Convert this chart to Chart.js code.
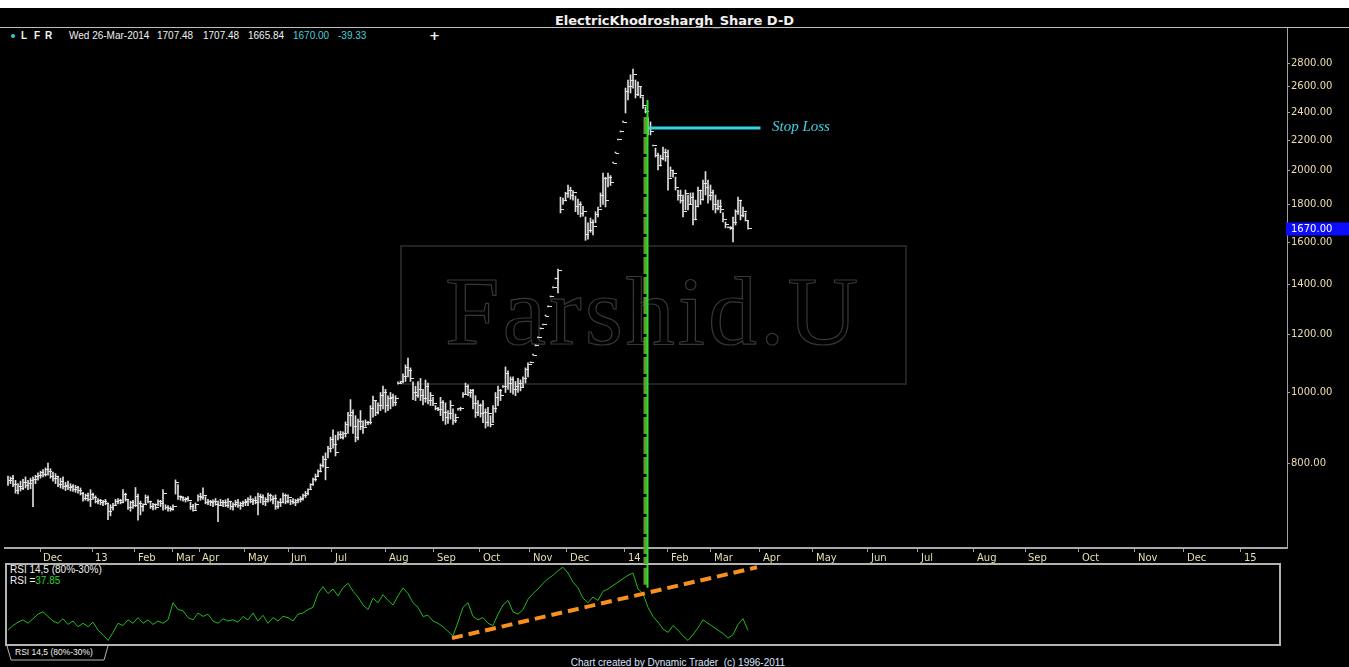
<!DOCTYPE html>
<html lang="en">

<head>
    <meta charset="UTF-8">
    <title>ElectricKhodroshargh_Share D-D</title>
    <script src="https://cdn.jsdelivr.net/npm/chart.js"></script>
    <style>
        html, body { margin: 0; padding: 0; background: #fff; }
        #wrap { position: relative; width: 1349px; height: 667px; overflow: hidden; }
        #board { position: absolute; left: 0; top: 8px; width: 1349px; height: 659px; background: #000; }
        .t { position: absolute; white-space: nowrap; font-family: "Liberation Sans", Arial, sans-serif; font-size: 10px; line-height: 12px; color: #f2f2f2; }
        #title { left: 0; top: 13px; width: 1349px; text-align: center; font: bold 13px/15px "DejaVu Sans", sans-serif; color: #f4f0f0; }
        #rule { position: absolute; left: 0; top: 27px; width: 1349px; height: 1px; background: #bdbdbd; }
        #dot { position: absolute; left: 11px; top: 34px; width: 4px; height: 4px; border-radius: 2px; background: #3cc8d8; }
        .cy { color: #45cfdc; }
        #mark { position: absolute; left: 400px; top: 245px; width: 503px; height: 136px; border: 2px solid #232323; }
        #farshid { position: absolute; left: 445px; top: 262px; font: 98px/98px "Liberation Serif", serif; letter-spacing: 3px; color: transparent; -webkit-text-stroke: 1.2px #383838; }
        canvas { position: absolute; left: 0; }
        #priceChart { top: 23px; }
        #rsiChart { top: 565px; }
        #rsiBox { position: absolute; left: 5px; top: 563px; width: 1272px; height: 79px; border: 2px solid #b3b3b3; }
    </style>
</head>

<body>
    <div id="wrap">
        <div id="board"></div>
        <div id="title" class="t">ElectricKhodroshargh_Share D-D</div>
        <div id="rule"></div>
        <div id="dot"></div>
        <div class="t" style="left:21px;top:30px;font-weight:bold">L</div>
        <div class="t" style="left:34px;top:30px;font-weight:bold">F</div>
        <div class="t" style="left:45px;top:30px;font-weight:bold">R</div>
        <div class="t" style="left:69px;top:30px">Wed 26-Mar-2014</div>
        <div class="t" style="left:157px;top:30px">1707.48</div>
        <div class="t" style="left:203px;top:30px">1707.48</div>
        <div class="t" style="left:248px;top:30px">1665.84</div>
        <div class="t cy" style="left:293px;top:30px">1670.00</div>
        <div class="t cy" style="left:338px;top:30px">-39.33</div>
        <div class="t" style="left:429px;top:28px;font:bold 13px/15px 'DejaVu Sans'">+</div>

        <div id="mark"></div>
        <div id="farshid">Farshid.U</div>

        <div id="rsiBox"></div>
        <div class="t" style="left:10px;top:564px">RSI 14,5 (80%-30%)</div>
        <div class="t" style="left:10px;top:575px">RSI =<span style="color:#2fd22f">37.85</span></div>

        <svg style="position:absolute;left:0;top:644px" width="120" height="20">
            <polyline points="7,2 11,16 104,16 108,2" fill="none" stroke="#b3b3b3" stroke-width="1" />
        </svg>
        <div class="t" style="left:15px;top:647px;font-size:8.5px;line-height:10px">RSI 14,5 (80%-30%)</div>
        <div class="t" style="left:0;top:657px;width:1356px;text-align:center;color:#dce4ff">Chart created by Dynamic Trader&nbsp; (c) 1996-2011</div>

        <canvas id="priceChart" width="1349" height="541"></canvas>
        <canvas id="rsiChart" width="1349" height="80"></canvas>
    </div>

    <script>
        // daily bars, 20-Nov-2012 .. 26-Mar-2014 (bar index = trading day)
        const highs = [
            770, 768, 772, 760, 752, 758, 762, 768, 760, 765,
            768, 772, 778, 782, 786, 790, 802, 788, 780, 776,
            770, 765, 768, 755, 758, 752, 750, 748, 746, 742,
            732, 728, 730, 738, 730, 724, 718, 716, 714, 716,
            708, 704, 707, 716, 718, 716, 738, 730, 716, 712,
            714, 743, 728, 712, 706, 726, 724, 712, 707, 706,
            715, 714, 738, 704, 702, 700, 704, 761, 750, 724,
            722, 720, 722, 710, 705, 708, 726, 730, 742, 722,
            716, 714, 715, 718, 712, 716, 714, 715, 718, 712,
            708, 714, 716, 710, 712, 716, 720, 724, 718, 722,
            730, 728, 726, 720, 730, 728, 724, 726, 712, 718,
            730, 728, 726, 716, 718, 716, 718, 722, 728, 734,
            740, 752, 765, 775, 785, 800, 820, 828, 845, 870,
            890, 875, 884, 886, 884, 912, 940, 978, 947, 930,
            920, 945, 915, 918, 914, 960, 989, 975, 968, 1000,
            1020, 1010, 990, 1000, 995, 990, 1034, 1036, 1060, 1090,
            1114, 1080, 1034, 1020, 1035, 1045, 1010, 1040, 1030, 1000,
            985, 960, 955, 985, 975, 968, 945, 975, 950, 935,
            952, 955, 1000, 1030, 1024, 1010, 1010, 990, 975, 965,
            975, 950, 955, 930, 960, 1000, 1020, 1010, 1022, 1083,
            1070, 1050, 1050, 1035, 1045, 1040, 1050, 1080, 1097, 1097,
            1124, 1157, 1186, 1220, 1235, 1270, 1307, 1348, 1387, 1426,
            1471, 1842, 1836, 1870, 1913, 1900, 1880, 1848, 1830, 1815,
            1790, 1731, 1700, 1725, 1715, 1760, 1786, 1866, 1986, 1960,
            1986, 1970, 2049, 2114, 2202, 2258, 2329, 2590, 2656, 2700,
            2749, 2656, 2640, 2600, 2520, 2441, 2360, 2330, 2161, 2147,
            2114, 2100, 2154, 2140, 2134, 2024, 2005, 1961, 1883, 1883,
            1854, 1883, 1854, 1866, 1866, 1825, 1901, 1883, 1943, 1995,
            1943, 1913, 1883, 1854, 1825, 1825, 1753, 1704, 1673, 1680,
            1731, 1770, 1842, 1825, 1786, 1753, 1707.48
        ];
        const lows = [
            748, 752, 745, 730, 728, 735, 738, 742, 738, 740,
            700, 752, 760, 765, 768, 770, 772, 765, 758, 752,
            745, 742, 740, 736, 738, 735, 734, 732, 730, 726,
            712, 714, 712, 700, 716, 708, 706, 704, 702, 704,
            672, 680, 692, 704, 706, 706, 708, 712, 694, 690,
            696, 700, 671, 682, 690, 704, 708, 696, 693, 694,
            702, 700, 692, 694, 690, 690, 692, 728, 716, 714,
            712, 710, 712, 694, 690, 694, 712, 714, 716, 706,
            704, 702, 700, 703, 668, 702, 700, 700, 698, 694,
            692, 700, 698, 694, 700, 702, 702, 708, 704, 706,
            682, 708, 704, 702, 710, 712, 706, 694, 696, 700,
            708, 706, 708, 704, 706, 702, 708, 710, 714, 720,
            726, 740, 748, 758, 770, 780, 792, 761, 815, 830,
            840, 820, 862, 866, 864, 870, 880, 900, 880, 857,
            862, 890, 880, 900, 904, 906, 926, 930, 935, 945,
            950, 940, 945, 950, 958, 960, 1026, 1028, 1030, 1035,
            1050, 1035, 978, 975, 985, 975, 962, 970, 965, 960,
            960, 947, 945, 930, 915, 905, 908, 920, 905, 910,
            946, 945, 985, 995, 990, 985, 950, 925, 930, 926,
            910, 895, 900, 898, 910, 940, 960, 975, 1016, 1000,
            1010, 1000, 995, 990, 1000, 1005, 1015, 1030, 1050, 1097,
            1124, 1157, 1186, 1220, 1235, 1270, 1307, 1348, 1387, 1426,
            1365, 1753, 1800, 1820, 1840, 1830, 1825, 1760, 1745, 1731,
            1735, 1609, 1615, 1650, 1637, 1700, 1731, 1786, 1800, 1786,
            1901, 1910, 2049, 2114, 2202, 2258, 2329, 2396, 2495, 2550,
            2590, 2511, 2530, 2511, 2430, 2396, 2237, 2237, 2161, 2088,
            2005, 2030, 2069, 2060, 1883, 1961, 1961, 1883, 1825, 1808,
            1731, 1770, 1770, 1800, 1688, 1715, 1786, 1800, 1825, 1854,
            1808, 1825, 1770, 1753, 1770, 1753, 1704, 1673, 1673, 1665,
            1601, 1688, 1745, 1715, 1731, 1709, 1665.84
        ];
        const closes = [
            760, 765, 750, 736, 745, 740, 755, 748, 752, 760,
            762, 768, 772, 778, 775, 785, 780, 770, 764, 768,
            750, 758, 745, 748, 742, 746, 738, 744, 735, 730,
            718, 724, 716, 728, 720, 712, 714, 708, 712, 706,
            690, 698, 702, 712, 714, 710, 728, 716, 698, 708,
            702, 722, 706, 700, 704, 720, 712, 700, 704, 698,
            712, 706, 730, 698, 696, 694, 700, 755, 722, 720,
            716, 718, 714, 700, 692, 704, 722, 720, 725, 710,
            712, 708, 712, 705, 702, 708, 710, 702, 712, 700,
            704, 710, 702, 706, 708, 712, 716, 712, 714, 710,
            722, 720, 712, 716, 725, 716, 718, 700, 708, 710,
            725, 712, 720, 712, 710, 714, 716, 718, 724, 730,
            738, 750, 762, 770, 782, 795, 812, 790, 840, 862,
            850, 830, 878, 870, 880, 905, 930, 940, 900, 870,
            912, 900, 895, 910, 910, 950, 975, 940, 960, 990,
            1000, 960, 980, 985, 970, 982, 1030, 1034, 1050, 1080,
            1070, 1045, 1000, 990, 1010, 990, 980, 1020, 975, 990,
            965, 950, 948, 970, 940, 925, 935, 960, 915, 925,
            950, 952, 995, 1020, 1000, 1005, 965, 940, 960, 935,
            940, 910, 935, 905, 950, 985, 1005, 990, 1020, 1060,
            1030, 1040, 1010, 1020, 1030, 1015, 1045, 1075, 1090, 1097,
            1124, 1157, 1186, 1220, 1235, 1270, 1307, 1348, 1387, 1426,
            1465, 1770, 1820, 1860, 1880, 1850, 1870, 1790, 1800, 1750,
            1760, 1640, 1660, 1700, 1680, 1745, 1770, 1850, 1950, 1820,
            1960, 1930, 2049, 2114, 2202, 2258, 2329, 2560, 2600, 2650,
            2700, 2540, 2600, 2530, 2450, 2410, 2286, 2260, 2161, 2100,
            2030, 2080, 2120, 2090, 1950, 2000, 1980, 1900, 1850, 1820,
            1760, 1860, 1800, 1840, 1720, 1790, 1880, 1830, 1920, 1900,
            1850, 1870, 1800, 1780, 1790, 1770, 1720, 1690, 1673, 1672,
            1700, 1760, 1820, 1740, 1760, 1709.33, 1670
        ];
        // RSI 14,5 read every second bar
        const rsi = [
            38, 42, 45, 47, 44, 48, 52, 54, 50, 46,
            44, 48, 43, 46, 41, 44, 41, 45, 38, 34,
            29, 36, 44, 42, 47, 44, 49, 44, 47, 43,
            46, 44, 47, 62, 56, 55, 49, 47, 53, 50,
            52, 46, 44, 48, 46, 47, 45, 50, 47, 53,
            46, 51, 44, 49, 46, 50, 49, 46, 52, 53,
            56, 58, 70, 76, 70, 74, 68, 75, 79, 72,
            67, 60, 56, 66, 62, 69, 64, 60, 68, 75,
            70, 62, 58, 50, 51, 46, 44, 41, 37, 33,
            45, 58, 62, 50, 47, 49, 44, 42, 52, 60,
            64, 54, 52, 56, 65, 70, 74, 79, 83, 86,
            90, 93, 88, 80, 75, 66, 62, 67, 64, 72,
            74, 77, 80, 83, 86, 88, 74, 70, 58, 50,
            45, 39, 36, 42, 38, 33, 29, 34, 40, 47,
            44, 41, 38, 35, 31, 34, 43, 48, 37.85
        ];
        const monthLabels = ['Dec', '13', 'Feb', 'Mar', 'Apr', 'May', 'Jun', 'Jul', 'Aug', 'Sep', 'Oct', 'Nov', 'Dec',
            '14', 'Feb', 'Mar', 'Apr', 'May', 'Jun', 'Jul', 'Aug', 'Sep', 'Oct', 'Nov', 'Dec', '15'];
        const monthPos = [12.8, 33.6, 50.8, 66, 76.4, 94.8, 112, 129.6, 151.2, 170.4, 188.8, 208.8, 223.6,
            246.8, 264, 281.2, 300.8, 322, 344, 364, 386.4, 406.8, 428.4, 450.8, 470.4, 493.2];
        const priceTicks = [800, 1000, 1200, 1400, 1600, 1800, 2000, 2200, 2400, 2600, 2800];

        // drawn notes
        const stopLoss = 2286;
        const stopFrom = 256.4, stopTo = 301;
        const stopLabelAt = 305.6;
        const breakBar = 255;               // green vertical line
        const breakTop = 2495;
        const trendFrom = { x: 177.6, y: 31 };  // RSI trend line
        const trendTo = { x: 299.6, y: 93 };

        const xMin = -1.2, xMax = 511.6;
        const lastClose = closes[closes.length - 1];

        Chart.defaults.font.family = '"DejaVu Sans", sans-serif';
        Chart.defaults.animation = false;

        // close tick to the right of each bar
        function makeTick() {
            const cv = document.createElement('canvas');
            cv.width = 7;
            cv.height = 1;
            const g = cv.getContext('2d');
            g.fillStyle = '#e4e4e4';
            g.fillRect(4, 0, 3, 1);
            return cv;
        }
        const tickImg = makeTick();

        const bars = closes.map((c, i) => ({ x: i, y: [lows[i], highs[i]] }));
        const closePts = closes.map((c, i) => ({ x: i, y: c }));

        const priceExtras = {
            id: 'priceExtras',
            afterDraw(chart) {
                const { ctx, scales: { x, y } } = chart;
                ctx.save();
                ctx.fillStyle = '#3fd3e3';
                ctx.font = 'italic 15px "Liberation Serif", serif';
                ctx.textBaseline = 'middle';
                ctx.fillText('Stop Loss', x.getPixelForValue(stopLabelAt), y.getPixelForValue(stopLoss) - 1);

                // last price flag on the axis
                const py = y.getPixelForValue(lastClose);
                ctx.fillStyle = '#0c0cff';
                ctx.fillRect(x.right - 1, py - 6, 63, 13);
                ctx.fillStyle = '#ffffff';
                ctx.font = '10px "DejaVu Sans"';
                ctx.fillText(lastClose.toFixed(2), x.right + 4, py + 0.5);
                ctx.restore();
            }
        };

        let priceChart;
        let rsiChart;

        const ctx = document.getElementById('priceChart');
        priceChart = new Chart(ctx, {
            type: 'bar',
            data: {
                datasets: [{
                    type: 'line',
                    data: [{ x: breakBar + 0.8, y: breakTop }, { x: breakBar + 0.8, y: 530 }],
                    borderColor: '#27e327',
                    borderWidth: 2,
                    pointRadius: 0,
                    clip: false
                }, {
                    type: 'line',
                    data: [{ x: breakBar, y: 2366 }, { x: breakBar, y: 530 }],
                    borderColor: '#5f9e2c',
                    borderWidth: 4,
                    borderDash: [17, 3],
                    pointRadius: 0,
                    clip: false
                }, {
                    type: 'line',
                    data: [{ x: stopFrom, y: stopLoss }, { x: stopTo, y: stopLoss }],
                    borderColor: '#35d4e4',
                    borderWidth: 3,
                    pointRadius: 0
                }, {
                    type: 'scatter',
                    data: closePts,
                    pointStyle: tickImg,
                    pointRadius: 1,
                    showLine: false
                }, {
                    type: 'bar',
                    data: bars,
                    backgroundColor: '#dedede',
                    barThickness: 1,
                    minBarLength: 1,
                    grouped: false
                }]
            },
            options: {
                responsive: false,
                layout: { padding: { left: 5, right: 0, top: 0, bottom: 0 } },
                plugins: { legend: { display: false }, tooltip: { enabled: false } },
                scales: {
                    x: {
                        type: 'linear',
                        min: xMin,
                        max: xMax,
                        offset: false,
                        afterBuildTicks: s => { s.ticks = monthPos.map(v => ({ value: v })); },
                        afterFit: s => { s.height = 16; s.paddingLeft = 0; s.paddingRight = 0; },
                        grid: { drawOnChartArea: false, color: '#9c9c9c', tickLength: 4, offset: false },
                        border: { color: '#a8a8a8', width: 2 },
                        ticks: {
                            color: '#e6dfb0',
                            font: { size: 10 },
                            padding: 0,
                            align: 'start',
                            labelOffset: 3,
                            autoSkip: false,
                            maxRotation: 0,
                            callback: (v, i) => monthLabels[i]
                        }
                    },
                    y: {
                        type: 'logarithmic',
                        position: 'right',
                        min: 615,
                        max: 3125,
                        afterBuildTicks: s => { s.ticks = priceTicks.map(v => ({ value: v })); },
                        afterFit: s => { s.width = 62; s.paddingTop = 0; s.paddingBottom = 0; },
                        grid: { drawOnChartArea: false, color: '#a0a0a0', tickLength: 3 },
                        border: { color: '#a0a0a0' },
                        ticks: {
                            color: '#f0dcb4',
                            font: { size: 10 },
                            padding: 1,
                            autoSkip: false,
                            callback: v => Number(v).toFixed(2)
                        }
                    }
                }
            },
            plugins: [priceExtras]
        });

        const cty = document.getElementById('rsiChart');
        rsiChart = new Chart(cty, {
            type: 'line',
            data: {
                datasets: [{
                    data: [{ x: breakBar + 0.8, y: 110 }, { x: breakBar + 0.8, y: 75 }],
                    borderColor: '#27e327',
                    borderWidth: 2,
                    pointRadius: 0,
                    clip: false
                }, {
                    data: [{ x: breakBar, y: 110 }, { x: breakBar, y: 75 }],
                    borderColor: '#5f9e2c',
                    borderWidth: 4,
                    borderDash: [17, 3],
                    pointRadius: 0,
                    clip: false
                }, {
                    data: [trendFrom, trendTo],
                    borderColor: '#f7901e',
                    borderWidth: 4,
                    borderDash: [11, 6],
                    pointRadius: 0,
                    clip: false
                }, {
                    data: rsi.map((v, k) => ({ x: k * 2, y: v })),
                    borderColor: '#22b822',
                    borderWidth: 1,
                    pointRadius: 0,
                    tension: 0
                }]
            },
            options: {
                responsive: false,
                layout: { padding: { left: 5, right: 62, top: 0, bottom: 0 } },
                plugins: { legend: { display: false }, tooltip: { enabled: false } },
                scales: {
                    x: { type: 'linear', min: xMin, max: xMax, display: false },
                    y: { min: 25, max: 95, display: false }
                }
            }
        });
    </script>
</body>

</html>
